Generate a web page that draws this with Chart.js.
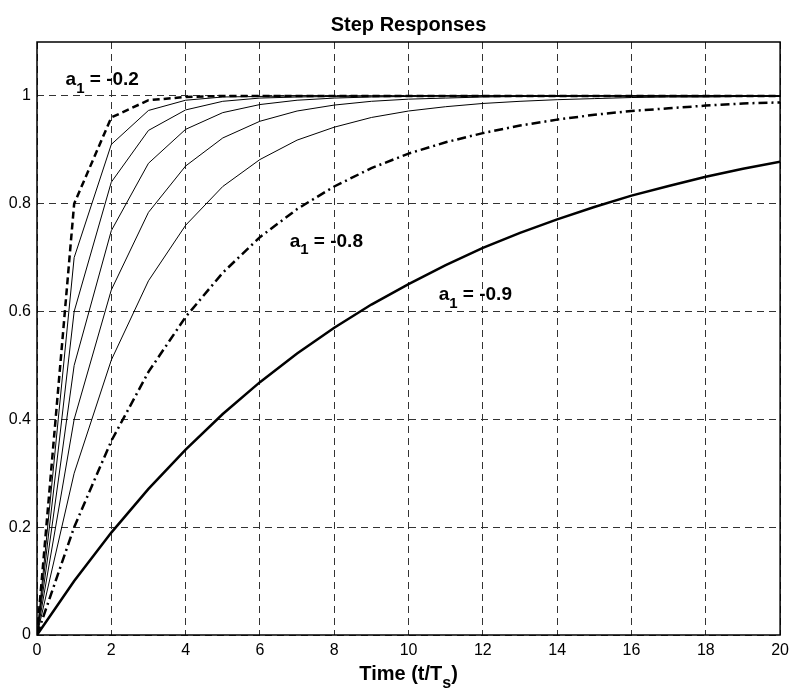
<!DOCTYPE html>
<html lang="en">
<head>
    <meta charset="UTF-8">
    <title>Step Responses</title>
    <script src="https://cdn.jsdelivr.net/npm/chart.js"></script>
    <style>
        body {
            margin: 0;
            background: #fff;
        }
        #wrap {
            width: 795px;
            height: 689px;
        }
    </style>
</head>
<body>
    <div id="wrap">
        <canvas id="myChart" width="795" height="689"></canvas>
    </div>

    <script>
        // time steps t/Ts
        const time = [0, 1, 2, 3, 4, 5, 6, 7, 8, 9, 10, 11, 12, 13, 14, 15, 16, 17, 18, 19, 20];

        // step responses, one per a1 value
        const a02 = [0, 0.8, 0.96, 0.992, 0.998, 1, 1, 1, 1, 1, 1, 1, 1, 1, 1, 1, 1, 1, 1, 1, 1];
        const a03 = [0, 0.7, 0.91, 0.973, 0.992, 0.998, 0.999, 1, 1, 1, 1, 1, 1, 1, 1, 1, 1, 1, 1, 1, 1];
        const a04 = [0, 0.6, 0.84, 0.936, 0.974, 0.99, 0.996, 0.998, 0.999, 1, 1, 1, 1, 1, 1, 1, 1, 1, 1, 1, 1];
        const a05 = [0, 0.5, 0.75, 0.875, 0.938, 0.969, 0.984, 0.992, 0.996, 0.998, 0.999, 1, 1, 1, 1, 1, 1, 1, 1, 1, 1];
        const a06 = [0, 0.4, 0.64, 0.784, 0.87, 0.922, 0.953, 0.972, 0.983, 0.99, 0.994, 0.996, 0.998, 0.999, 0.999, 1, 1, 1, 1, 1, 1];
        const a07 = [0, 0.3, 0.51, 0.657, 0.76, 0.832, 0.882, 0.918, 0.942, 0.96, 0.972, 0.98, 0.986, 0.99, 0.993, 0.995, 0.997, 0.998, 0.998, 0.999, 0.999];
        const a08 = [0, 0.2, 0.36, 0.488, 0.59, 0.672, 0.738, 0.79, 0.832, 0.866, 0.893, 0.914, 0.931, 0.945, 0.956, 0.965, 0.972, 0.977, 0.982, 0.986, 0.988];
        const a09 = [0, 0.1, 0.19, 0.271, 0.344, 0.41, 0.469, 0.522, 0.57, 0.613, 0.651, 0.686, 0.718, 0.746, 0.771, 0.794, 0.815, 0.833, 0.85, 0.865, 0.878];

        const xTicks = [0, 2, 4, 6, 8, 10, 12, 14, 16, 18, 20];
        const yTicks = [0, 0.2, 0.4, 0.6, 0.8, 1];

        // curve labels: text and baseline anchor in data units
        const notes = [
            { text: '-0.2', x: 0.77, y: 1.02 },
            { text: '-0.8', x: 6.8, y: 0.72 },
            { text: '-0.9', x: 10.81, y: 0.621 }
        ];

        const FONT = '"Liberation Sans", Arial, Helvetica, sans-serif';

        function pts(vals) {
            return time.map((t, i) => ({ x: t, y: vals[i] }));
        }

        function series(vals, width, dash) {
            return {
                data: pts(vals),
                borderColor: '#000',
                borderWidth: width,
                borderDash: dash,
                pointRadius: 0,
                tension: 0,
                fill: false
            };
        }

        // text (alphabetic baseline) with a subscript piece
        function subText(ctx, parts, x, y, size, align) {
            const big = 'bold ' + size + 'px ' + FONT;
            const small = 'bold ' + Math.round(size * 0.8) + 'px ' + FONT;
            let total = 0;
            parts.forEach(p => {
                ctx.font = p.sub ? small : big;
                total += ctx.measureText(p.t).width;
            });
            let cx = align === 'center' ? x - total / 2 : x;
            ctx.textAlign = 'left';
            ctx.textBaseline = 'alphabetic';
            parts.forEach(p => {
                ctx.font = p.sub ? small : big;
                ctx.fillText(p.t, cx, p.sub ? y + size * 0.4 : y);
                cx += ctx.measureText(p.t).width;
            });
        }

        const decor = {
            id: 'decor',
            afterDatasetsDraw(chart) {
                const ctx = chart.ctx;
                const a = chart.chartArea;
                const xs = chart.scales.x, ys = chart.scales.y;
                ctx.save();
                ctx.fillStyle = '#000';

                notes.forEach(n => {
                    subText(ctx, [{ t: 'a' }, { t: '1', sub: true }, { t: ' = ' + n.text }],
                        xs.getPixelForValue(n.x), ys.getPixelForValue(n.y), 19, 'left');
                });

                // frame
                ctx.setLineDash([]);
                ctx.strokeStyle = '#000';
                ctx.lineWidth = 1.5;
                ctx.strokeRect(a.left, a.top, a.right - a.left, a.bottom - a.top);

                // title and x axis title
                ctx.textAlign = 'center';
                ctx.textBaseline = 'alphabetic';
                ctx.font = 'bold 20px ' + FONT;
                ctx.fillText('Step Responses', (a.left + a.right) / 2, 31);
                subText(ctx, [{ t: 'Time (t/T' }, { t: 's', sub: true }, { t: ')' }],
                    (a.left + a.right) / 2, 680, 20, 'center');
                ctx.restore();
            }
        };

        const ctx = document.getElementById('myChart').getContext('2d');
        const myChart = new Chart(ctx, {
            type: 'line',
            data: {
                datasets: [
                    series(a02, 2.5, [7, 4]),
                    series(a03, 1, []),
                    series(a04, 1, []),
                    series(a05, 1, []),
                    series(a06, 1, []),
                    series(a07, 1, []),
                    series(a08, 2.5, [9, 4, 2, 4]),
                    series(a09, 2.5, [])
                ]
            },
            options: {
                responsive: false,
                animation: false,
                layout: {
                    padding: { left: 0, right: 9, top: 42, bottom: 0 }
                },
                plugins: {
                    legend: { display: false },
                    tooltip: { enabled: false }
                },
                scales: {
                    x: {
                        type: 'linear',
                        min: 0,
                        max: 20,
                        afterFit(s) { s.height = 54; },
                        afterBuildTicks(s) { s.ticks = xTicks.map(v => ({ value: v })); },
                        grid: { color: '#333', lineWidth: 1, drawTicks: false },
                        border: { display: false, dash: [7, 5] },
                        ticks: {
                            color: '#000',
                            padding: 6,
                            maxRotation: 0,
                            font: { family: FONT, size: 16 },
                            callback: v => String(v)
                        }
                    },
                    y: {
                        min: 0,
                        max: 1.1,
                        afterFit(s) { s.width = 37; },
                        afterBuildTicks(s) { s.ticks = yTicks.map(v => ({ value: v })); },
                        grid: { color: '#333', lineWidth: 1, drawTicks: false },
                        border: { display: false, dash: [7, 5] },
                        ticks: {
                            color: '#000',
                            padding: 6,
                            font: { family: FONT, size: 16 },
                            callback: v => String(v)
                        }
                    }
                }
            },
            plugins: [decor]
        });
    </script>
</body>
</html>
